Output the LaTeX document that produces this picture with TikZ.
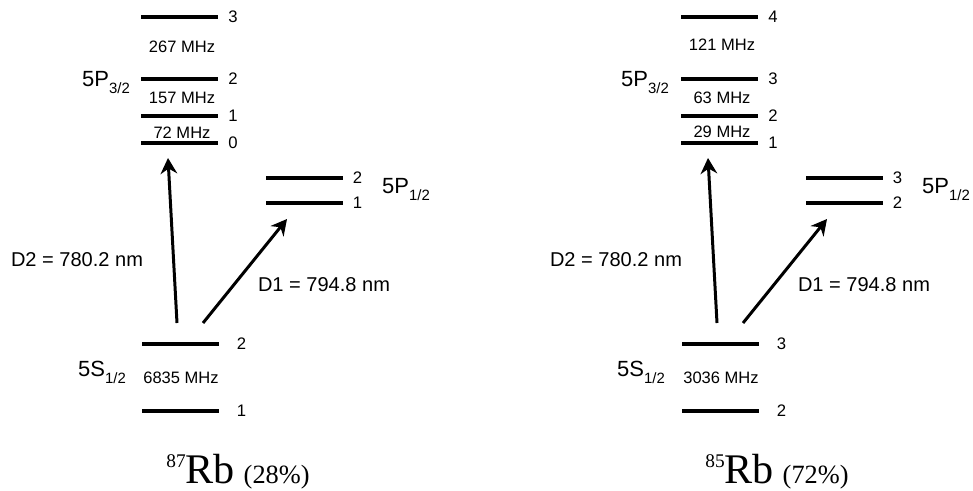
\documentclass[tikz,border=0pt]{standalone}
\usepackage{fontspec}
\setmainfont{Liberation Serif}
\setsansfont{Liberation Sans}
\usepackage{tikz}
\usetikzlibrary{arrows.meta}
\newcommand{\lowsub}[1]{\raisebox{-4pt}{\fontsize{8.5}{9}\selectfont #1}}
\tikzset{
    every node/.style={inner sep=0mm, font=\sffamily},
    every label/.style={shape=rectangle, inner sep=0mm, font=\sffamily\fontsize{9.5}{10}\selectfont},
    lvl/.style={rectangle, fill=black, minimum width=1.54cm, minimum height=1.8pt, label={[xshift=5.5pt]right:{#1}}},
    glvl/.style={rectangle, fill=black, minimum width=1.54cm, minimum height=1.8pt, label={[xshift=10pt]right:{#1}}},
    mhz/.style={font=\sffamily\fontsize{9.4}{10}\selectfont},
    term/.style={font=\sffamily\fontsize{12.5}{13}\selectfont},
    wave/.style={font=\sffamily\fontsize{11.4}{12}\selectfont},
    iso/.style={anchor=base, font=\rmfamily},
    trans/.style={line width=1.7pt, -{Stealth[length=9pt, width=9.5pt, inset=3pt]}}
}
\newcommand{\isotope}[2]{\raisebox{9pt}{\fontsize{11}{12}\selectfont #1}{\fontsize{24}{26}\selectfont Rb}\hspace{5pt}{\fontsize{15}{16}\selectfont (#2)}}

\begin{document}
\begin{tikzpicture}
        \useasboundingbox (0cm, 0cm) rectangle (19.46cm, -9.82cm);
        \node (a3) [lvl=3] at (3.590000cm, -0.340000cm) {};
        \node (a2) [lvl=2] at (3.590000cm, -1.580000cm) {};
        \node (a1) [lvl=1] at (3.590000cm, -2.320000cm) {};
        \node (a0) [lvl=0] at (3.590000cm, -2.860000cm) {};
        \node (ad2) [lvl=2] at (6.080000cm, -3.560000cm) {};
        \node (ad1) [lvl=1] at (6.080000cm, -4.060000cm) {};
        \node (ag2) [glvl=2] at (3.600000cm, -6.880000cm) {};
        \node (ag1) [glvl=1] at (3.600000cm, -8.220000cm) {};
        \node (am32) [mhz] at (3.640000cm, -0.940000cm) {267 MHz};
        \node (am21) [mhz] at (3.640000cm, -1.950000cm) {157 MHz};
        \node (am10) [mhz] at (3.640000cm, -2.650000cm) {72 MHz};
        \node (amg) [mhz] at (3.620000cm, -7.550000cm) {6835 MHz};
        \node (ap32) [term] at (2.120000cm, -1.660000cm) {5P\lowsub{3/2}};
        \node (ap12) [term] at (8.120000cm, -3.800000cm) {5P\lowsub{1/2}};
        \node (as12) [term] at (2.040000cm, -7.440000cm) {5S\lowsub{1/2}};
        \node (aD2) [wave] at (1.540000cm, -5.200000cm) {D2 = 780.2 nm};
        \node (aD1) [wave] at (6.480000cm, -5.700000cm) {D1 = 794.8 nm};
        \node (arb) [iso] at (4.760000cm, -9.660000cm) {\isotope{87}{28\%}};
        \coordinate (aD2s) at (3.540000cm, -6.460000cm);
        \coordinate (aD2e) at (3.360000cm, -3.160000cm);
        \coordinate (aD1s) at (4.060000cm, -6.460000cm);
        \coordinate (aD1e) at (5.740000cm, -4.380000cm);
        \draw [trans] (aD2s) -- (aD2e);
        \draw [trans] (aD1s) -- (aD1e);

        \node (b4) [lvl=4] at (14.390000cm, -0.340000cm) {};
        \node (b3) [lvl=3] at (14.390000cm, -1.580000cm) {};
        \node (b2) [lvl=2] at (14.390000cm, -2.320000cm) {};
        \node (b1) [lvl=1] at (14.390000cm, -2.860000cm) {};
        \node (bd3) [lvl=3] at (16.880000cm, -3.560000cm) {};
        \node (bd2) [lvl=2] at (16.880000cm, -4.060000cm) {};
        \node (bg3) [glvl=3] at (14.400000cm, -6.880000cm) {};
        \node (bg2) [glvl=2] at (14.400000cm, -8.220000cm) {};
        \node (bm43) [mhz] at (14.440000cm, -0.900000cm) {121 MHz};
        \node (bm32) [mhz] at (14.440000cm, -1.950000cm) {63 MHz};
        \node (bm21) [mhz] at (14.440000cm, -2.630000cm) {29 MHz};
        \node (bmg) [mhz] at (14.420000cm, -7.550000cm) {3036 MHz};
        \node (bp32) [term] at (12.900000cm, -1.660000cm) {5P\lowsub{3/2}};
        \node (bp12) [term] at (18.920000cm, -3.800000cm) {5P\lowsub{1/2}};
        \node (bs12) [term] at (12.820000cm, -7.440000cm) {5S\lowsub{1/2}};
        \node (bD2) [wave] at (12.320000cm, -5.200000cm) {D2 = 780.2 nm};
        \node (bD1) [wave] at (17.280000cm, -5.700000cm) {D1 = 794.8 nm};
        \node (brb) [iso] at (15.540000cm, -9.660000cm) {\isotope{85}{72\%}};
        \coordinate (bD2s) at (14.340000cm, -6.460000cm);
        \coordinate (bD2e) at (14.160000cm, -3.160000cm);
        \coordinate (bD1s) at (14.860000cm, -6.460000cm);
        \coordinate (bD1e) at (16.540000cm, -4.380000cm);
        \draw [trans] (bD2s) -- (bD2e);
        \draw [trans] (bD1s) -- (bD1e);
\end{tikzpicture}
\end{document}
